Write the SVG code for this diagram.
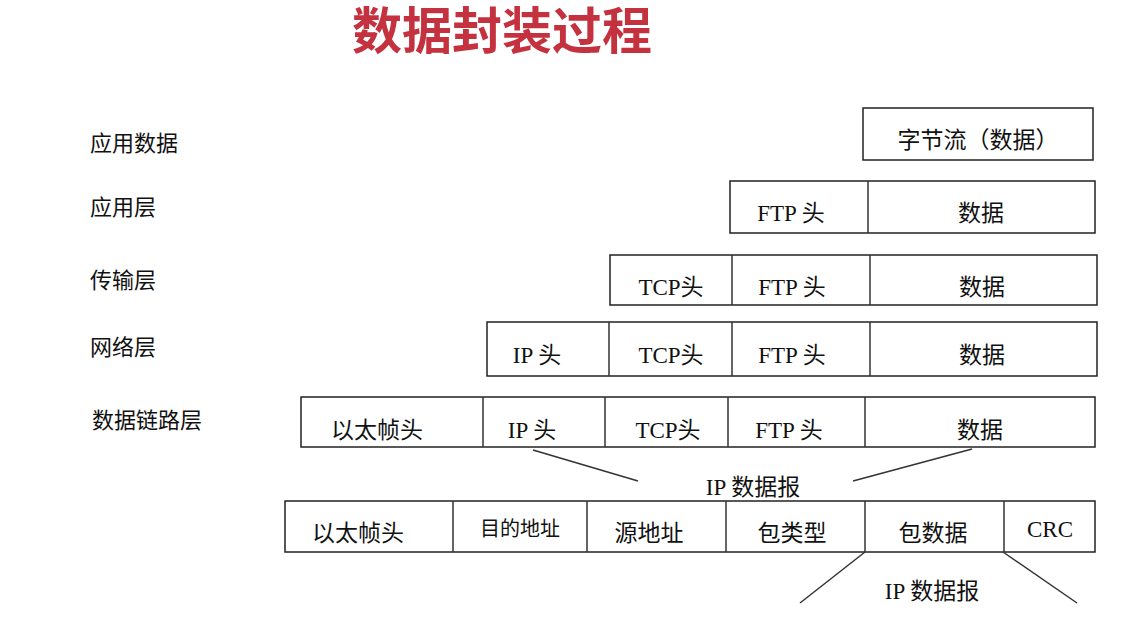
<svg xmlns="http://www.w3.org/2000/svg" width="1138" height="638" viewBox="0 0 1138 638">
<style>
text{font-family:"Liberation Serif","Noto Sans CJK SC",serif;font-size:23px;fill:#111;text-anchor:middle}
.l{text-anchor:start;font-family:"Noto Sans CJK SC",sans-serif;font-size:22px}
.t{font-family:"Noto Sans CJK SC",sans-serif;font-weight:bold;font-size:50px;fill:#c5323f}
rect{fill:#fff;stroke:#222;stroke-width:1.5}
line{stroke:#333;stroke-width:1.5}
</style>
<rect x="0" y="0" width="1138" height="638" style="fill:#fff;stroke:none"/>
<text class="t" x="502" y="49">数据封装过程</text>
<g id="labels">
<text class="l" x="90" y="151">应用数据</text>
<text class="l" x="90" y="215">应用层</text>
<text class="l" x="90" y="288">传输层</text>
<text class="l" x="90" y="355">网络层</text>
<text class="l" x="92" y="428">数据链路层</text>
</g>
<g id="row0"><rect x="863" y="108" width="230" height="52"/><text x="978" y="148">字节流（数据）</text></g>
<g id="row1"><rect x="730" y="181" width="365" height="52"/><line x1="868" y1="181" x2="868" y2="233"/>
<text x="791" y="221">FTP 头</text><text x="981" y="221">数据</text></g>
<g id="row2"><rect x="610" y="255" width="487" height="50"/><line x1="732" y1="255" x2="732" y2="305"/><line x1="870" y1="255" x2="870" y2="305"/>
<text x="671" y="295">TCP头</text><text x="792" y="295">FTP 头</text><text x="982" y="295">数据</text></g>
<g id="row3"><rect x="487" y="322" width="610" height="54"/><line x1="609" y1="322" x2="609" y2="376"/><line x1="732" y1="322" x2="732" y2="376"/><line x1="870" y1="322" x2="870" y2="376"/>
<text x="537" y="363">IP 头</text><text x="671" y="363">TCP头</text><text x="792" y="363">FTP 头</text><text x="982" y="363">数据</text></g>
<g id="row4"><rect x="301" y="397" width="794" height="50"/><line x1="483" y1="397" x2="483" y2="447"/><line x1="605" y1="397" x2="605" y2="447"/><line x1="728" y1="397" x2="728" y2="447"/><line x1="865" y1="397" x2="865" y2="447"/>
<text x="377" y="438">以太帧头</text><text x="532" y="438">IP 头</text><text x="668" y="438">TCP头</text><text x="789" y="438">FTP 头</text><text x="980" y="438">数据</text></g>
<g id="row5"><rect x="285" y="501" width="810" height="51"/>
<line x1="453" y1="501" x2="453" y2="552"/><line x1="587" y1="501" x2="587" y2="552"/><line x1="726" y1="501" x2="726" y2="552"/><line x1="865" y1="501" x2="865" y2="552"/><line x1="1004" y1="501" x2="1004" y2="552"/>
<text x="358" y="541">以太帧头</text><text x="520" y="536" style="font-size:20px">目的地址</text><text x="649" y="541">源地址</text><text x="792" y="541">包类型</text><text x="933" y="541">包数据</text><text x="1050" y="537">CRC</text></g>
<g id="connectors">
<line x1="533" y1="450" x2="638" y2="481"/><line x1="972" y1="449" x2="853" y2="481"/>
<line x1="865" y1="552" x2="800" y2="603"/><line x1="1003" y1="552" x2="1077" y2="603"/>
</g>
<text x="753" y="495">IP 数据报</text>
<text x="932" y="599">IP 数据报</text>
</svg>
